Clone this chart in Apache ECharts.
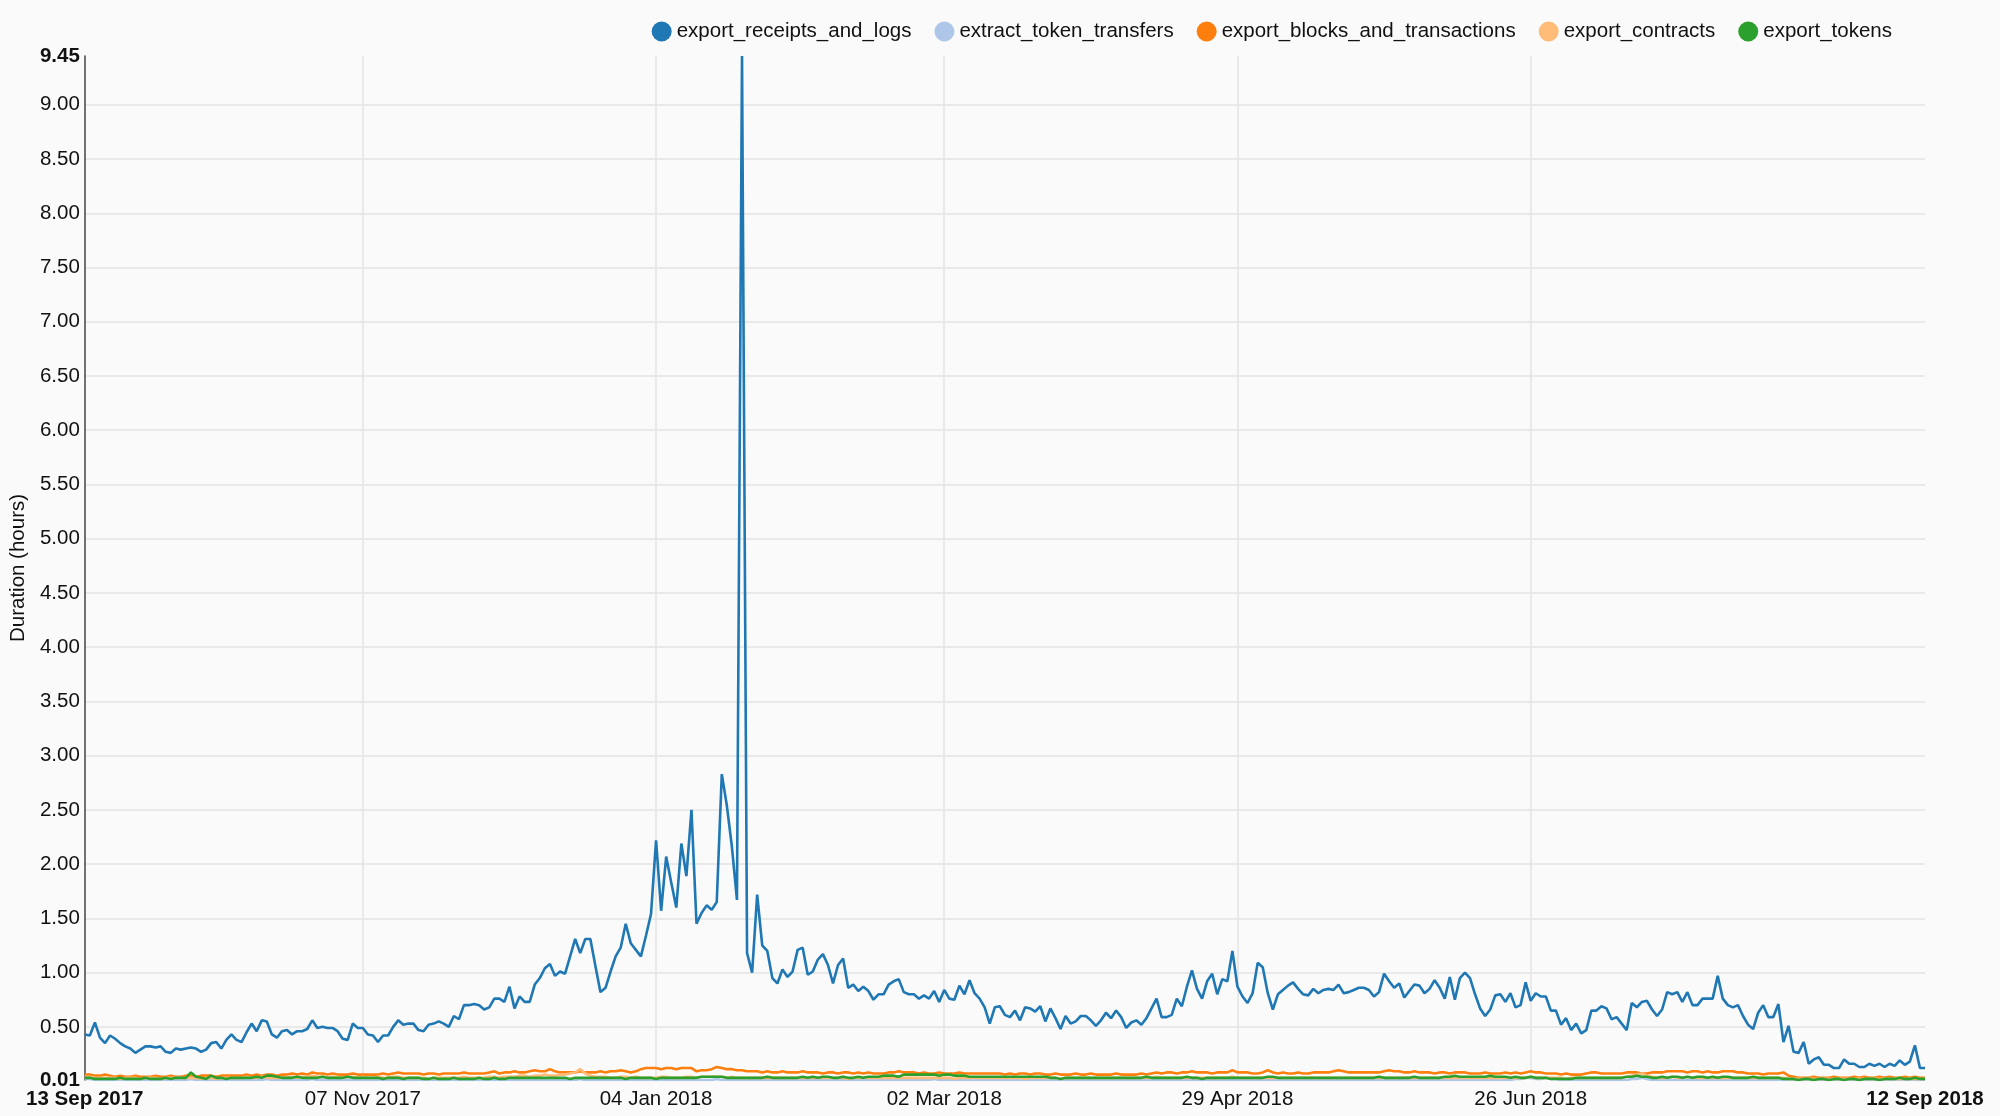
<!DOCTYPE html>
<html>
<head>
<meta charset="utf-8">
<script src="https://cdn.jsdelivr.net/npm/echarts@6/dist/echarts.min.js"></script>
<style>
html,body{margin:0;padding:0;background:#fafafa;}
#chart{width:2000px;height:1116px;}
</style>
</head>
<body>
<div id="chart"></div>
<script>
// ---- data ----
var startDate = '2017-09-13';
var dayCount = 365;
var tickDates = ['2017-09-13','2017-11-07','2018-01-04','2018-03-02','2018-04-29','2018-06-26','2018-09-12'];
var yTickValues = [0.5,1.0,1.5,2.0,2.5,3.0,3.5,4.0,4.5,5.0,5.5,6.0,6.5,7.0,7.5,8.0,8.5,9.0];
var yMin = 0.01, yMax = 9.45;
var seriesNames = ['export_receipts_and_logs','extract_token_transfers','export_blocks_and_transactions','export_contracts','export_tokens'];
var seriesColors = ['#1f77b4','#aec7e8','#ff7f0e','#ffbb78','#2ca02c'];

var receiptsAndLogs = [
0.43,0.42,0.54,0.40,0.35,0.42,0.39,0.35,0.32,0.30,
0.26,0.29,0.32,0.32,0.31,0.32,0.27,0.26,0.30,0.29,
0.30,0.31,0.30,0.27,0.29,0.35,0.36,0.30,0.38,0.43,
0.38,0.36,0.45,0.53,0.46,0.56,0.55,0.43,0.40,0.46,
0.47,0.43,0.46,0.46,0.48,0.56,0.49,0.50,0.49,0.49,
0.46,0.39,0.38,0.53,0.49,0.49,0.43,0.42,0.36,0.42,
0.42,0.50,0.56,0.52,0.53,
0.53,0.47,0.46,0.52,0.53,
0.55,0.53,0.50,0.60,0.57,0.70,0.70,0.71,0.70,0.66,
0.68,0.76,0.76,0.73,0.87,0.67,0.78,0.73,0.73,0.89,
0.95,1.04,1.08,0.97,1.01,0.99,1.15,1.31,1.18,1.31,
1.31,1.06,0.82,0.86,1.01,1.15,1.23,1.45,1.27,1.21,
1.15,1.34,1.54,2.22,1.57,2.07,1.83,1.60,2.19,1.89,
2.50,1.45,1.55,1.62,1.58,1.65,2.83,2.54,2.16,1.67,
9.45,
1.18,1.00,1.72,1.25,1.20,0.95,0.90,1.03,0.96,
1.01,1.21,1.23,0.98,1.01,1.12,1.17,1.07,0.90,1.07,
1.13,0.86,0.89,0.83,0.87,0.83,0.75,0.80,0.80,0.89,
0.92,0.94,0.82,0.80,0.80,0.76,0.79,0.76,0.83,0.73,
0.84,0.76,0.75,0.88,0.80,0.93,0.81,0.76,0.68,0.53,
0.68,0.69,0.61,0.59,0.65,0.56,0.68,0.67,0.64,0.69,
0.55,0.67,0.58,0.48,0.60,0.53,0.55,0.60,0.60,0.56,
0.51,0.56,0.63,0.58,0.65,0.59,0.49,0.54,0.56,0.52,
0.58,0.67,0.76,0.59,0.59,0.61,0.76,0.69,0.87,1.02,
0.85,0.76,0.92,0.99,0.80,0.94,0.92,1.20,0.87,
0.78,
0.72,0.81,1.09,1.05,0.81,0.66,0.80,0.84,0.88,0.91,
0.85,0.80,0.79,0.85,0.81,0.84,0.85,0.84,0.89,0.81,
0.82,0.84,0.86,0.86,0.84,0.78,0.82,0.99,0.92,0.86,
0.90,0.77,0.83,0.89,0.88,0.81,0.85,0.93,0.86,0.76,
0.96,0.75,0.95,1.00,0.95,0.80,0.67,0.60,0.66,0.79,
0.80,0.73,0.81,0.68,0.70,0.91,0.74,0.81,0.78,0.78,
0.65,0.65,0.52,0.58,0.47,
0.53,0.44,0.47,0.65,0.65,
0.69,0.67,0.57,0.59,0.53,0.47,0.72,0.68,0.73,0.74,
0.66,0.60,0.66,0.82,0.80,0.82,0.73,0.82,0.70,0.70,
0.76,0.76,0.76,0.97,0.76,0.70,0.68,0.70,0.60,0.52,
0.48,0.63,0.70,0.59,0.59,0.71,0.36,0.51,0.27,0.26,
0.36,0.16,0.20,0.22,0.15,0.15,0.12,0.12,0.20,0.16,
0.16,0.13,0.13,0.16,0.14,0.16,0.13,0.16,0.14,0.19,
0.15,0.18,0.33,0.12,0.12
];

var tokenTransfers = [
0.02,0.02,0.01,0.01,0.01,0.01,0.01,0.01,0.01,0.01,0.01,0.01,0.01,0.01,0.01,0.01,0.01,0.01,0.01,0.01,
0.01,0.02,0.01,0.01,0.01,0.01,0.01,0.01,0.01,0.01,0.01,0.01,0.01,0.01,0.01,0.01,0.02,0.01,0.01,0.01,
0.01,0.01,0.01,0.01,0.01,0.02,0.01,0.01,0.01,0.01,0.01,0.01,0.01,0.01,0.01,0.01,0.01,0.01,0.01,0.01,
0.01,0.01,0.01,0.01,0.01,0.01,0.01,0.01,0.01,0.01,0.01,0.01,0.01,0.01,0.01,0.01,0.01,0.01,0.01,0.01,
0.01,0.01,0.01,0.01,0.01,0.01,0.01,0.01,0.01,0.01,0.01,0.01,0.01,0.01,0.01,0.01,0.01,0.01,0.02,0.01,
0.01,0.01,0.01,0.01,0.01,0.01,0.01,0.01,0.01,0.01,0.01,0.01,0.01,0.01,0.01,0.01,0.01,0.01,0.01,0.01,
0.01,0.01,0.01,0.01,0.01,0.02,0.01,0.01,0.01,0.01,0.01,0.01,0.01,0.01,0.01,0.01,0.01,0.01,0.01,0.01,
0.01,0.01,0.01,0.01,0.01,0.01,0.01,0.01,0.01,0.01,0.01,0.01,0.01,0.01,0.01,0.01,0.01,0.01,0.01,0.01,
0.01,0.01,0.01,0.01,0.01,0.01,0.01,0.01,0.02,0.01,0.01,0.01,0.01,0.01,0.01,0.01,0.01,0.01,0.01,0.01,
0.01,0.01,0.01,0.01,0.01,0.01,0.01,0.01,0.01,0.01,0.01,0.01,0.01,0.01,0.01,0.01,0.01,0.01,0.01,0.01,
0.01,0.01,0.01,0.01,0.01,0.01,0.01,0.01,0.01,0.01,0.01,0.01,0.01,0.01,0.01,0.01,0.01,0.01,0.01,0.01,
0.01,0.01,0.01,0.01,0.01,0.01,0.01,0.01,0.01,0.01,0.01,0.01,0.01,0.01,0.01,0.01,0.01,0.01,0.01,0.01,
0.01,0.01,0.01,0.01,0.01,0.01,0.01,0.01,0.01,0.01,0.01,0.01,0.01,0.01,0.01,0.01,0.01,0.01,0.01,0.01,
0.01,0.01,0.01,0.01,0.01,0.01,0.01,0.01,0.01,0.01,0.01,0.01,0.01,0.01,0.01,0.01,0.01,0.01,0.01,0.01,
0.01,0.01,0.01,0.02,0.02,0.03,0.03,0.02,0.02,0.03,0.02,0.02,0.01,0.01,0.01,0.01,0.01,0.01,0.01,0.01,
0.01,0.01,0.01,0.01,0.01,0.01,0.02,0.02,0.03,0.02,0.01,0.01,0.01,0.01,0.01,0.01,0.01,0.01,0.01,0.01,
0.01,0.01,0.01,0.01,0.01,0.01,0.01,0.01,0.01,0.01,0.01,0.01,0.01,0.01,0.01,0.01,0.01,0.01,0.01,0.01,
0.01,0.01,0.01,0.01,0.01,0.01,0.01,0.01,0.01,0.01,0.01,0.01,0.01,0.01,0.01,0.01,0.01,0.01,0.01,0.01,
0.01,0.01,0.01,0.01,0.01
];

var blocksAndTransactions = [
0.06,0.06,0.05,0.05,0.06,0.05,0.04,0.05,0.04,0.04,0.05,0.04,0.04,0.04,0.05,0.04,0.04,0.05,0.04,0.04,
0.05,0.05,0.04,0.05,0.05,0.05,0.04,0.05,0.05,0.05,0.05,0.05,0.06,0.05,0.06,0.05,0.06,0.06,0.05,0.06,
0.06,0.07,0.06,0.07,0.06,0.08,0.07,0.07,0.06,0.07,0.06,0.06,0.06,0.07,0.06,0.06,0.06,0.06,0.06,0.07,
0.06,0.07,0.08,0.07,0.07,0.07,0.07,0.06,0.07,0.07,0.06,0.07,0.07,0.07,0.07,0.08,0.07,0.07,0.07,0.07,
0.08,0.09,0.07,0.08,0.08,0.09,0.08,0.08,0.09,0.10,0.09,0.09,0.11,0.09,0.08,0.08,0.08,0.08,0.09,0.08,
0.08,0.08,0.09,0.08,0.09,0.09,0.10,0.09,0.08,0.09,0.11,0.12,0.12,0.12,0.11,0.12,0.12,0.11,0.12,0.12,
0.12,0.09,0.10,0.10,0.11,0.13,0.12,0.11,0.11,0.10,0.10,0.09,0.09,0.09,0.08,0.09,0.08,0.08,0.09,0.08,
0.08,0.08,0.09,0.08,0.08,0.08,0.07,0.08,0.08,0.07,0.08,0.08,0.07,0.08,0.07,0.08,0.07,0.07,0.07,0.08,
0.08,0.09,0.08,0.08,0.08,0.07,0.08,0.07,0.07,0.08,0.07,0.07,0.07,0.08,0.07,0.07,0.07,0.07,0.07,0.07,
0.07,0.07,0.06,0.07,0.06,0.07,0.07,0.06,0.07,0.07,0.06,0.06,0.07,0.06,0.06,0.06,0.07,0.06,0.06,0.07,
0.06,0.06,0.06,0.06,0.07,0.06,0.06,0.06,0.06,0.07,0.06,0.07,0.08,0.07,0.08,0.08,0.07,0.08,0.08,0.09,
0.08,0.08,0.08,0.07,0.08,0.08,0.08,0.10,0.08,0.08,0.08,0.07,0.07,0.08,0.10,0.08,0.07,0.08,0.07,0.07,
0.08,0.07,0.07,0.08,0.08,0.08,0.08,0.09,0.10,0.09,0.08,0.08,0.08,0.08,0.08,0.08,0.08,0.09,0.10,0.09,
0.09,0.08,0.08,0.09,0.08,0.08,0.08,0.07,0.08,0.08,0.07,0.08,0.08,0.08,0.07,0.07,0.07,0.08,0.07,0.07,
0.07,0.08,0.07,0.08,0.07,0.08,0.09,0.08,0.08,0.07,0.07,0.07,0.06,0.07,0.06,0.06,0.06,0.07,0.08,0.08,
0.07,0.07,0.07,0.07,0.07,0.08,0.08,0.08,0.07,0.07,0.08,0.08,0.08,0.09,0.09,0.09,0.09,0.08,0.09,0.09,
0.08,0.09,0.08,0.08,0.09,0.09,0.09,0.08,0.08,0.07,0.07,0.07,0.06,0.07,0.07,0.07,0.08,0.05,0.04,0.03,
0.03,0.03,0.04,0.03,0.03,0.03,0.04,0.03,0.03,0.03,0.04,0.03,0.04,0.03,0.03,0.04,0.03,0.04,0.03,0.03,
0.04,0.03,0.04,0.03,0.03
];

var contracts = [
0.04,0.04,0.03,0.03,0.03,0.03,0.03,0.02,0.03,0.03,0.03,0.02,0.03,0.03,0.03,0.02,0.03,0.03,0.03,0.03,
0.03,0.03,0.03,0.02,0.03,0.03,0.02,0.03,0.03,0.03,0.03,0.03,0.04,0.03,0.03,0.04,0.03,0.03,0.03,0.03,
0.04,0.04,0.03,0.04,0.04,0.05,0.04,0.04,0.03,0.04,0.04,0.03,0.04,0.04,0.03,0.04,0.03,0.03,0.04,0.03,
0.03,0.04,0.04,0.03,0.03,0.03,0.03,0.03,0.02,0.03,0.03,0.03,0.03,0.03,0.03,0.04,0.03,0.03,0.03,0.03,
0.04,0.04,0.03,0.04,0.04,0.04,0.05,0.05,0.04,0.05,0.05,0.06,0.05,0.05,0.06,0.06,0.07,0.08,0.11,0.07,
0.05,0.04,0.04,0.04,0.03,0.03,0.04,0.04,0.03,0.04,0.03,0.03,0.03,0.03,0.04,0.04,0.03,0.03,0.03,0.04,
0.04,0.03,0.04,0.04,0.04,0.04,0.04,0.03,0.04,0.03,0.03,0.03,0.03,0.03,0.03,0.03,0.03,0.03,0.03,0.03,
0.03,0.03,0.03,0.03,0.03,0.03,0.03,0.03,0.03,0.03,0.03,0.02,0.03,0.03,0.03,0.03,0.03,0.03,0.03,0.03,
0.03,0.03,0.03,0.03,0.03,0.03,0.03,0.03,0.03,0.03,0.03,0.03,0.02,0.03,0.03,0.03,0.03,0.03,0.03,0.03,
0.03,0.03,0.03,0.03,0.03,0.03,0.02,0.03,0.03,0.03,0.03,0.03,0.03,0.02,0.03,0.03,0.03,0.03,0.03,0.03,
0.03,0.03,0.03,0.03,0.03,0.03,0.03,0.03,0.03,0.03,0.03,0.03,0.04,0.03,0.03,0.03,0.03,0.03,0.03,0.03,
0.03,0.03,0.03,0.03,0.03,0.03,0.03,0.04,0.03,0.03,0.03,0.03,0.03,0.03,0.03,0.03,0.03,0.03,0.03,0.03,
0.03,0.03,0.03,0.03,0.03,0.03,0.03,0.03,0.03,0.03,0.03,0.03,0.03,0.03,0.03,0.03,0.03,0.03,0.03,0.03,
0.03,0.03,0.03,0.03,0.03,0.03,0.03,0.03,0.03,0.03,0.03,0.03,0.03,0.03,0.03,0.03,0.03,0.03,0.03,0.03,
0.03,0.03,0.03,0.03,0.03,0.03,0.04,0.03,0.03,0.03,0.03,0.03,0.03,0.02,0.03,0.03,0.03,0.03,0.03,0.03,
0.03,0.03,0.03,0.03,0.03,0.04,0.05,0.06,0.07,0.05,0.04,0.03,0.03,0.03,0.04,0.03,0.03,0.04,0.03,0.03,
0.03,0.03,0.03,0.03,0.03,0.03,0.03,0.03,0.03,0.03,0.03,0.03,0.03,0.03,0.03,0.03,0.03,0.02,0.02,0.02,
0.02,0.02,0.02,0.02,0.02,0.02,0.02,0.02,0.02,0.02,0.02,0.02,0.02,0.02,0.02,0.02,0.02,0.02,0.02,0.02,
0.02,0.02,0.02,0.02,0.02
];

var tokens = [
0.03,0.03,0.02,0.02,0.02,0.02,0.02,0.03,0.02,0.02,0.02,0.02,0.03,0.02,0.02,0.02,0.03,0.02,0.03,0.03,
0.03,0.08,0.04,0.03,0.02,0.05,0.03,0.03,0.02,0.03,0.03,0.03,0.03,0.03,0.04,0.03,0.05,0.05,0.04,0.03,
0.03,0.03,0.04,0.03,0.03,0.03,0.03,0.04,0.03,0.03,0.03,0.03,0.04,0.03,0.03,0.03,0.03,0.03,0.03,0.02,
0.03,0.03,0.03,0.02,0.03,0.03,0.03,0.02,0.02,0.03,0.02,0.02,0.02,0.03,0.02,0.02,0.02,0.02,0.03,0.02,
0.02,0.03,0.02,0.02,0.03,0.03,0.03,0.03,0.03,0.03,0.03,0.03,0.03,0.03,0.03,0.03,0.02,0.03,0.03,0.03,
0.03,0.03,0.03,0.03,0.03,0.03,0.03,0.02,0.03,0.03,0.03,0.03,0.03,0.02,0.03,0.03,0.03,0.03,0.03,0.03,
0.03,0.03,0.04,0.04,0.04,0.04,0.04,0.03,0.03,0.03,0.03,0.03,0.03,0.03,0.03,0.04,0.03,0.03,0.03,0.03,
0.03,0.03,0.04,0.03,0.04,0.03,0.04,0.04,0.03,0.03,0.04,0.03,0.03,0.04,0.03,0.04,0.04,0.04,0.05,0.05,
0.05,0.04,0.06,0.06,0.06,0.06,0.06,0.06,0.06,0.05,0.06,0.06,0.05,0.05,0.05,0.04,0.04,0.04,0.04,0.04,
0.04,0.04,0.04,0.04,0.04,0.04,0.04,0.04,0.04,0.04,0.04,0.03,0.03,0.02,0.03,0.03,0.03,0.03,0.03,0.03,
0.03,0.03,0.03,0.03,0.03,0.03,0.03,0.03,0.03,0.03,0.04,0.03,0.03,0.03,0.03,0.03,0.03,0.03,0.04,0.03,
0.03,0.02,0.03,0.03,0.03,0.03,0.03,0.03,0.03,0.03,0.03,0.03,0.03,0.03,0.04,0.04,0.03,0.03,0.03,0.03,
0.03,0.03,0.03,0.03,0.03,0.03,0.03,0.03,0.03,0.03,0.03,0.03,0.03,0.03,0.03,0.03,0.04,0.03,0.03,0.03,
0.03,0.03,0.03,0.04,0.03,0.03,0.03,0.03,0.03,0.04,0.04,0.05,0.04,0.04,0.04,0.04,0.04,0.04,0.05,0.04,
0.04,0.04,0.03,0.04,0.03,0.03,0.04,0.03,0.03,0.03,0.02,0.02,0.02,0.02,0.02,0.03,0.03,0.03,0.03,0.03,
0.03,0.03,0.03,0.03,0.03,0.04,0.04,0.05,0.04,0.04,0.03,0.03,0.04,0.03,0.04,0.04,0.03,0.04,0.03,0.04,
0.04,0.03,0.04,0.03,0.04,0.04,0.03,0.03,0.03,0.03,0.04,0.03,0.03,0.03,0.03,0.03,0.02,0.02,0.02,0.01,
0.02,0.02,0.01,0.02,0.02,0.01,0.02,0.02,0.01,0.02,0.02,0.01,0.02,0.02,0.02,0.01,0.02,0.02,0.02,0.03,
0.02,0.02,0.03,0.02,0.02
];

var seriesData = [receiptsAndLogs, tokenTransfers, blocksAndTransactions, contracts, tokens];

// ---- categories (dates) ----
var MONTHS = ['Jan','Feb','Mar','Apr','May','Jun','Jul','Aug','Sep','Oct','Nov','Dec'];
function isoDay(ms){ var d = new Date(ms); var m = d.getUTCMonth()+1, dd = d.getUTCDate();
  return d.getUTCFullYear()+'-'+(m<10?'0':'')+m+'-'+(dd<10?'0':'')+dd; }
function fmtDate(s){ var p = s.split('-'); return p[2]+' '+MONTHS[parseInt(p[1],10)-1]+' '+p[0]; }
var p0 = startDate.split('-');
var t0 = Date.UTC(+p0[0], +p0[1]-1, +p0[2]);
var categories = [];
for (var i = 0; i < dayCount; i++) categories.push(isoDay(t0 + i*86400000));
var tickIdx = tickDates.map(function(d){ return categories.indexOf(d); });
var innerTickIdx = tickIdx.slice(1, tickIdx.length-1);
var lastIdx = categories.length - 1;

var FONT = '"Liberation Sans", Arial, Helvetica, sans-serif';
var FS = 20.5;
var chart = echarts.init(document.getElementById('chart'), null, {renderer:'canvas'});
var option = {
  animation: false,
  backgroundColor: '#fafafa',
  textStyle: {fontFamily: FONT},
  legend: {
    right: 103, top: 16,
    icon: 'circle', itemWidth: 20, itemHeight: 20, itemGap: 23,
    textStyle: {fontSize: FS, color: '#111', fontFamily: FONT},
    data: seriesNames
  },
  grid: {left: 82, right: 75, top: 56, bottom: 36, containLabel: false},
  xAxis: {
    type: 'category', data: categories, boundaryGap: false,
    axisLine: {show: false}, axisTick: {show: false},
    axisLabel: {
      interval: function(idx){ return tickIdx.indexOf(idx) >= 0; },
      margin: 9, fontSize: FS, color: '#111', fontFamily: FONT,
      formatter: function(v, idx){
        var s = fmtDate(v);
        return (idx === 0 || idx === lastIdx) ? '{b|' + s + '}' : s;
      },
      rich: {b: {fontWeight: 'bold', fontSize: FS, color: '#111', fontFamily: FONT}}
    },
    splitLine: {show: true, interval: function(idx){ return innerTickIdx.indexOf(idx) >= 0; },
      lineStyle: {color: '#e3e3e3', width: 1.5}}
  },
  yAxis: {
    type: 'value', min: yMin, max: yMax,
    name: 'Duration (hours)', nameLocation: 'middle', nameGap: 54,
    nameTextStyle: {fontSize: FS, color: '#111', fontFamily: FONT},
    axisLine: {show: true, lineStyle: {color: '#444', width: 1.5}},
    axisTick: {show: false, customValues: yTickValues},
    axisLabel: {
      customValues: [yMin].concat(yTickValues).concat([yMax]),
      margin: 5, fontSize: FS, color: '#111', fontFamily: FONT,
      formatter: function(v){
        var s = Number(v).toFixed(2);
        return (Math.abs(v - yMin) < 1e-6 || Math.abs(v - yMax) < 1e-6) ? '{b|' + s + '}' : s;
      },
      rich: {b: {fontWeight: 'bold', fontSize: FS, color: '#111', fontFamily: FONT}}
    },
    splitLine: {show: true, lineStyle: {color: '#e3e3e3', width: 1.5}}
  },
  series: seriesNames.map(function(name, k){
    return {
      name: name, type: 'line', data: seriesData[k],
      showSymbol: false, symbol: 'circle',
      lineStyle: {width: 2.6, color: seriesColors[k]},
      itemStyle: {color: seriesColors[k]},
      z: 2 + k
    };
  })
};
chart.setOption(option);
</script>
</body>
</html>
